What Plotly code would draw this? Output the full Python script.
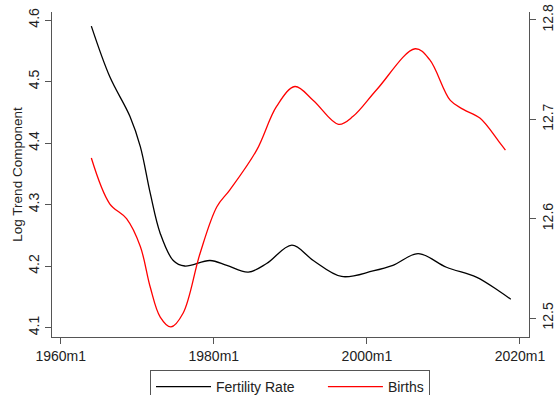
import plotly.graph_objects as go

# Fertility rate (log trend), left axis
fert_year = [1964.0, 1966.4, 1969.05, 1970.4, 1971.7, 1973.0, 1974.7, 1976.2, 1979.5, 1981.7,
             1984.5, 1986.9, 1990.2, 1993.0, 1996.7, 2000.8, 2003.4, 2006.7, 2010.4, 2014.3,
             2017.3, 2018.8]
fert_val = [4.590, 4.508, 4.443, 4.394, 4.318, 4.253, 4.209, 4.200, 4.209, 4.201,
            4.190, 4.204, 4.234, 4.209, 4.183, 4.192, 4.201, 4.220, 4.198, 4.182,
            4.159, 4.146]

# Births (log trend), right axis
birth_year = [1964.0, 1966.4, 1968.6, 1970.4, 1971.7, 1973.0, 1974.4, 1976.0, 1978.2, 1980.4,
              1982.1, 1985.6, 1988.2, 1990.6, 1993.0, 1996.3, 1998.2, 2001.3, 2006.3, 2008.2,
              2010.9, 2012.6, 2014.8, 2017.3, 2018.1]
birth_val = [12.661, 12.615, 12.600, 12.572, 12.531, 12.501, 12.491, 12.505, 12.565, 12.612,
             12.629, 12.669, 12.713, 12.733, 12.719, 12.695, 12.703, 12.730, 12.771, 12.760,
             12.719, 12.710, 12.701, 12.677, 12.669]

x_ticks = [1960, 1980, 2000, 2020]
x_ticktext = ["1960m1", "1980m1", "2000m1", "2020m1"]
left_ticks = [4.1, 4.2, 4.3, 4.4, 4.5, 4.6]
right_ticks = [12.5, 12.6, 12.7, 12.8]

FONT = "Arial, Liberation Sans, sans-serif"
PAD = "\u00a0" * 6

fig = go.Figure()
fig.add_trace(go.Scatter(x=fert_year, y=fert_val, mode="lines", name="Fertility Rate" + PAD,
                         line=dict(color="black", width=1.3, shape="spline", smoothing=1.0),
                         yaxis="y"))
fig.add_trace(go.Scatter(x=birth_year, y=birth_val, mode="lines", name="Births",
                         line=dict(color="#ff0000", width=1.3, shape="spline", smoothing=1.0),
                         yaxis="y2"))

axis_common = dict(showgrid=False, zeroline=False, showline=True, linecolor="#555",
                   linewidth=1, ticks="outside", ticklen=6, tickcolor="#555",
                   tickfont=dict(family=FONT, size=14, color="#222"))

fig.update_layout(
    width=555, height=395,
    margin=dict(l=52, r=26, t=12, b=58, autoexpand=False),
    plot_bgcolor="white", paper_bgcolor="white",
    font=dict(family=FONT, size=14, color="#222"),
    xaxis=dict(range=[1958.86, 2021.18], tickvals=x_ticks, ticktext=x_ticktext, **axis_common),
    yaxis=dict(range=[4.0846, 4.613], tickvals=left_ticks, tickangle=-90,
               title=dict(text="Log Trend Component", font=dict(family=FONT, size=13.5, color="#222"),
                          standoff=0),
               **axis_common),
    yaxis2=dict(range=[12.4809, 12.808], tickvals=right_ticks, tickangle=-90,
                overlaying="y", side="right", **axis_common),
    showlegend=True,
    legend=dict(orientation="h", x=(150 - 52) / 477, xanchor="left",
                yref="container", y=1 - 370 / 395, yanchor="top",
                bordercolor="#555", borderwidth=1, bgcolor="white",
                font=dict(family=FONT, size=14, color="#222"),
                itemwidth=55),
)

fig.write_html("out.html")
